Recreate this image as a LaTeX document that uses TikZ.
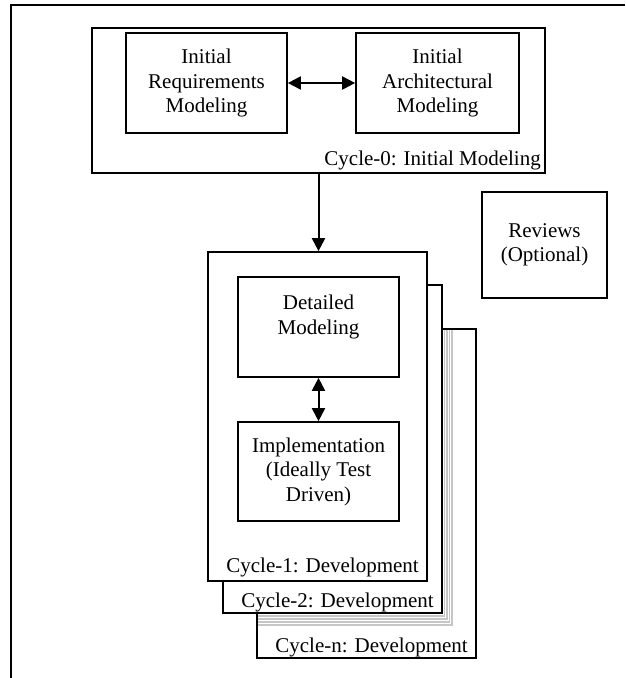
\documentclass[tikz,border=0pt]{standalone}
\usepackage{fontspec}
\setmainfont{Liberation Serif}
\usetikzlibrary{arrows.meta}
\begin{document}
\begin{tikzpicture}[x=1pt,y=-1pt,
  every node/.style={font=\fontsize{21}{24.5}\selectfont},
  box/.style={draw, line width=1.7pt, fill=white, align=center, inner sep=0pt},
  frame/.style={draw, line width=1.7pt, fill=white, inner sep=0pt},
  caption/.style={anchor=east, inner sep=0pt},
  link/.style={line width=2pt, {Triangle[length=13pt,width=13pt]}-{Triangle[length=13pt,width=13pt]}},
  flow/.style={line width=2pt, -{Triangle[length=13pt,width=13pt]}},
  sheet/.style={draw=gray!45, line width=1.3pt}]
\useasboundingbox (0,0) rectangle (625,678);

% page frame
\draw[line width=2pt] (11,678) -- (11,5) -- (625,5);

% cycle 0
\node[frame, minimum width=453pt, minimum height=145pt] (cyc0) at (318.5,100.5) {};
\node[box, minimum width=161pt, minimum height=100pt] (req) at (206.5,83)
  {Initial\\Requirements\\Modeling};
\node[box, minimum width=163pt, minimum height=100pt] (arch) at (437.5,83)
  {Initial\\Architectural\\Modeling};
\draw[link] (req) -- (arch);
\node[caption] (cap0) at (541,160) {Cycle-0: Initial Modeling};

% stack of development cycles, back to front
\node[frame, minimum width=219pt, minimum height=329pt] (cycn) at (366.5,493.5) {};
\begin{scope}
  \clip (258,330) rectangle (475,657);
  \foreach \k in {1,...,4}
    \draw[sheet] (223+2.5*\k,285+3*\k) rectangle (442+2.5*\k,613+3*\k);
\end{scope}
\node[caption] (capn) at (468,647) {Cycle-n: Development};

\node[frame, minimum width=219pt, minimum height=328pt] (cyc2) at (332.5,449) {};
\node[caption] (cap2) at (434,602) {Cycle-2: Development};

\node[frame, minimum width=219pt, minimum height=329pt] (cyc1) at (317.5,416.5) {};
\node[caption] (cap1) at (419,567) {Cycle-1: Development};

\node[box, minimum width=161pt, minimum height=100pt] (det) at (318.5,327)
  {Detailed\\Modeling\\\mbox{}};
\node[box, minimum width=161pt, minimum height=99pt] (impl) at (318.5,471.5)
  {Implementation\\(Ideally Test\\Driven)};
\draw[link] (det) -- (impl);

\draw[flow] (cyc0.south) -- (cyc0.south |- cyc1.north);

% optional reviews
\node[box, minimum width=125pt, minimum height=106pt] (rev) at (544.5,245)
  {Reviews\\(Optional)};
\end{tikzpicture}
\end{document}
